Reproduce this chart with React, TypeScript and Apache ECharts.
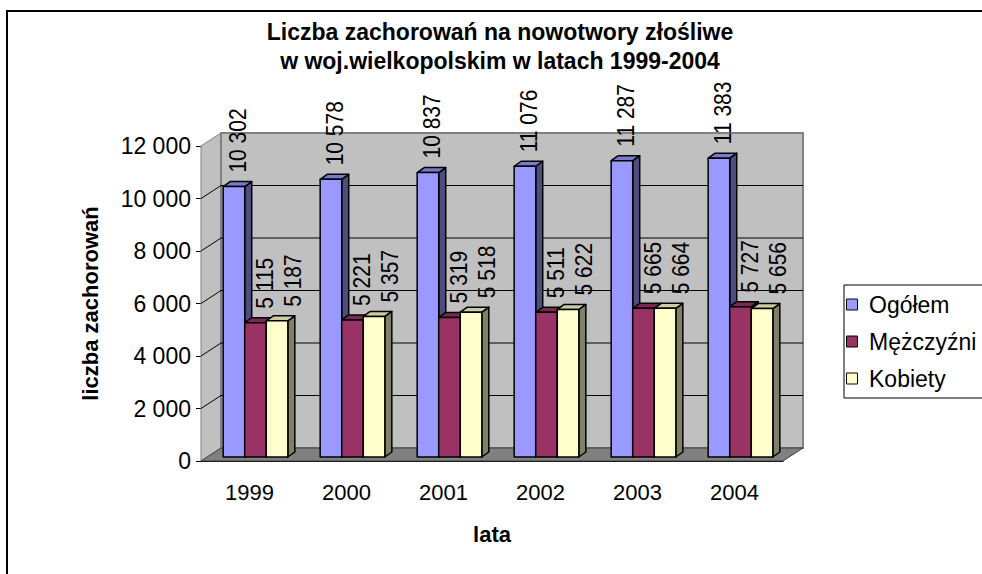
import React, { useEffect, useRef } from 'react';
import * as echarts from 'echarts';

const YEARS = ['1999', '2000', '2001', '2002', '2003', '2004'];
const SERIES_NAMES = ['Ogółem', 'Mężczyźni', 'Kobiety'];
const OGOLEM = [10302, 10578, 10837, 11076, 11287, 11383];
const MEZCZYZNI = [5115, 5221, 5319, 5511, 5665, 5727];
const KOBIETY = [5187, 5357, 5518, 5622, 5664, 5656];
const Y_TICKS = [0, 2000, 4000, 6000, 8000, 10000, 12000];
const TITLE = 'Liczba zachorowań na nowotwory złośliwe\nw woj.wielkopolskim w latach 1999-2004';
const X_NAME = 'lata';
const Y_NAME = 'liczba zachorowań';

const FONT = '"Liberation Sans", Arial, Helvetica, sans-serif';
const WALL_DX = 20;
const WALL_DY = 13;
const BAR_SHIFT_X = 6;
const BAR_SHIFT_Y = 4;
const BAR_DX = 7;
const BAR_DY = 5;
const LABEL_DX = [4, 10, 16];
const FACES = [
  { front: '#9999FF', side: '#4D4D80', top: '#7A7ACC' },
  { front: '#993366', side: '#4D1A33', top: '#7A2952' },
  { front: '#FFFFCC', side: '#808066', top: '#CCCCA3' },
];

const fmt = (v: number) => String(v).replace(/\B(?=(\d{3})+(?!\d))/g, ' ');

const renderWalls = (params: any, api: any) => {
  const cs = params.coordSys;
  const x = cs.x, y = cs.y, w = cs.width, h = cs.height;
  const children: any[] = [];
  children.push({
    type: 'polygon',
    shape: { points: [[x, y + h], [x, y], [x + WALL_DX, y - WALL_DY], [x + WALL_DX, y + h - WALL_DY]] },
    style: { fill: '#C0C0C0', stroke: '#808080', lineWidth: 1 },
  });
  children.push({
    type: 'rect',
    shape: { x: x + WALL_DX, y: y - WALL_DY, width: w, height: h },
    style: { fill: '#C0C0C0', stroke: '#808080', lineWidth: 2 },
  });
  Y_TICKS.forEach((v) => {
    if (v === Y_TICKS[0] || v === Y_TICKS[Y_TICKS.length - 1]) return;
    const yy = api.coord([0, v])[1];
    children.push({
      type: 'line',
      shape: { x1: x + WALL_DX, y1: yy - WALL_DY, x2: x + WALL_DX + w, y2: yy - WALL_DY },
      style: { stroke: '#000', lineWidth: 1 },
    });
    children.push({
      type: 'line',
      shape: { x1: x, y1: yy, x2: x + WALL_DX, y2: yy - WALL_DY },
      style: { stroke: '#000', lineWidth: 1 },
    });
  });
  children.push({
    type: 'polygon',
    shape: { points: [[x, y + h], [x + w, y + h], [x + w + WALL_DX, y + h - WALL_DY], [x + WALL_DX, y + h - WALL_DY]] },
    style: { fill: '#808080', stroke: '#404040', lineWidth: 1 },
  });
  return { type: 'group', children };
};

const makeBar = (s: number) => (params: any, api: any) => {
  const cat = api.value(0);
  const val = api.value(1);
  const p0 = api.coord([cat, 0]);
  const p1 = api.coord([cat, val]);
  const catW = api.size([1, 0])[0];
  const groupW = catW / 1.5;
  const bw = groupW / 3;
  const x0 = p0[0] - groupW / 2 + s * bw + BAR_SHIFT_X;
  const yb = p0[1] - BAR_SHIFT_Y;
  const yt = p1[1] - BAR_SHIFT_Y;
  const c = FACES[s];
  const ln = { stroke: '#000', lineWidth: 1.5, lineJoin: 'round' };
  return {
    type: 'group',
    children: [
      {
        type: 'polygon',
        shape: { points: [[x0 + bw, yt], [x0 + bw + BAR_DX, yt - BAR_DY], [x0 + bw + BAR_DX, yb - BAR_DY], [x0 + bw, yb]] },
        style: { fill: c.side, ...ln },
      },
      {
        type: 'polygon',
        shape: { points: [[x0, yt], [x0 + BAR_DX, yt - BAR_DY], [x0 + bw + BAR_DX, yt - BAR_DY], [x0 + bw, yt]] },
        style: { fill: c.top, ...ln },
      },
      {
        type: 'rect',
        shape: { x: x0, y: yt, width: bw, height: yb - yt },
        style: { fill: c.front, ...ln },
      },
      {
        type: 'text',
        x: x0 + bw / 2 + LABEL_DX[s],
        y: yt - BAR_DY - 9,
        rotation: Math.PI / 2,
        scaleY: 1.12,
        style: {
          text: fmt(val),
          fill: '#000',
          fontSize: 21,
          fontFamily: FONT,
          align: 'left',
          verticalAlign: 'middle',
        },
      },
    ],
  };
};

export default function App() {
  const ref = useRef<HTMLDivElement>(null);
  useEffect(() => {
    if (!ref.current) return;
    const chart = echarts.init(ref.current, null, { renderer: 'svg' });
    const seriesData = [OGOLEM, MEZCZYZNI, KOBIETY];
    const option: any = {
      animation: false,
      backgroundColor: '#fff',
      title: {
        text: TITLE,
        left: 500,
        top: 17,
        textAlign: 'center',
        padding: 0,
        textStyle: { fontSize: 23, fontWeight: 'bold', fontFamily: FONT, lineHeight: 29, color: '#000' },
      },
      legend: {
        orient: 'vertical',
        left: 844,
        top: 285,
        padding: [8, 40, 8, 2],
        itemGap: 14,
        itemWidth: 24,
        itemHeight: 11,
        icon: 'path://M0,0H10V10H0Z',
        symbolKeepAspect: true,
        borderColor: '#000',
        borderWidth: 1,
        selectedMode: false,
        textStyle: { fontSize: 23, fontFamily: FONT, color: '#000' },
        itemStyle: { borderColor: '#000', borderWidth: 1 },
        data: SERIES_NAMES.map((n, i) => ({
          name: n,
          itemStyle: { color: FACES[i].front, borderColor: '#000', borderWidth: 1 },
        })),
      },
      graphic: [
        {
          type: 'rect',
          silent: true,
          z: 100,
          shape: { x: 7, y: 11, width: 1100, height: 700 },
          style: { fill: 'none', stroke: '#000', lineWidth: 2 },
        },
      ],
      grid: { left: 201, right: 199, top: 146, bottom: 113, containLabel: false, outerBoundsMode: 'none' },
      xAxis: {
        type: 'category',
        data: YEARS,
        name: X_NAME,
        nameLocation: 'middle',
        nameGap: 62,
        nameTextStyle: { fontSize: 22, fontWeight: 'bold', fontFamily: FONT, color: '#000' },
        axisLine: { lineStyle: { color: '#000', width: 1 } },
        axisTick: { length: 6, lineStyle: { color: '#000' } },
        axisLabel: { margin: 20, fontSize: 22, color: '#000', fontFamily: FONT },
        splitLine: { show: false },
      },
      yAxis: {
        type: 'value',
        min: 0,
        max: 12000,
        interval: 2000,
        name: Y_NAME,
        nameLocation: 'middle',
        nameGap: 100,
        nameTextStyle: { fontSize: 22, fontWeight: 'bold', fontFamily: FONT, color: '#000' },
        axisLine: { show: true, lineStyle: { color: '#000', width: 1 } },
        axisTick: { show: true, length: 5, lineStyle: { color: '#000' } },
        axisLabel: { margin: 10, fontSize: 23, color: '#000', fontFamily: FONT, formatter: (v: number) => fmt(v) },
        splitLine: { show: false },
      },
      series: [
        {
          type: 'custom',
          name: 'walls',
          silent: true,
          z: 1,
          renderItem: renderWalls,
          encode: { x: 0, y: 1 },
          data: [[0, 0]],
        },
        ...SERIES_NAMES.map((n, s) => ({
          type: 'custom',
          name: n,
          z: 2,
          renderItem: makeBar(s),
          encode: { x: 0, y: 1 },
          itemStyle: { color: FACES[s].front, borderColor: '#000', borderWidth: 1 },
          data: seriesData[s].map((v, i) => [i, v]),
        })),
      ],
    };
    chart.setOption(option);
    return () => chart.dispose();
  }, []);
  return <div ref={ref} style={{ position: 'absolute', left: 0, top: 0, width: 982, height: 574 }} />;
}
